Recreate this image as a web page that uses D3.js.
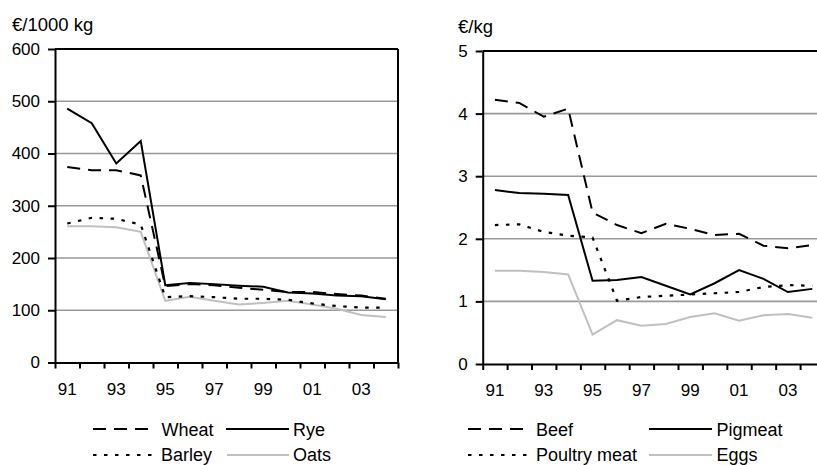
<!DOCTYPE html>
<html>
<head>
<meta charset="utf-8">
<script src="https://cdn.jsdelivr.net/npm/d3@7"></script>
<style>
  html, body { margin: 0; padding: 0; background: #fff; }
  svg { display: block; font-family: "Liberation Sans", Arial, sans-serif; }
</style>
</head>
<body>
<svg id="chart" width="817" height="465"></svg>
<script>
// Years on the category axis (1991–2004)
const years = ["91","92","93","94","95","96","97","98","99","00","01","02","03","04"];
const yearLabels = ["91","93","95","97","99","01","03"];

// Cereal prices, €/1000 kg
const wheat  = [374, 368, 368, 358, 146, 150, 148, 143, 139, 135, 135, 131, 128, 122];
const rye    = [486, 458, 381, 424, 148, 152, 150, 147, 145, 134, 132, 128, 127, 121];
const barley = [266, 277, 275, 264, 125, 127, 125, 122, 122, 120, 113, 108, 105, 105];
const oats   = [261, 261, 259, 250, 118, 126, 118, 111, 114, 118, 111, 103,  91,  87];
const cerealTicks = [0, 100, 200, 300, 400, 500, 600];

// Livestock product prices, €/kg
const beef    = [4.22, 4.17, 3.95, 4.08, 2.42, 2.22, 2.09, 2.24, 2.16, 2.06, 2.08, 1.89, 1.85, 1.90];
const pigmeat = [2.78, 2.73, 2.72, 2.70, 1.33, 1.34, 1.39, 1.25, 1.11, 1.29, 1.50, 1.36, 1.15, 1.20];
const poultry = [2.22, 2.23, 2.11, 2.05, 2.02, 1.01, 1.07, 1.09, 1.11, 1.13, 1.15, 1.23, 1.26, 1.25];
const eggs    = [1.49, 1.49, 1.47, 1.43, 0.47, 0.70, 0.61, 0.64, 0.75, 0.81, 0.69, 0.78, 0.80, 0.74];
const meatTicks = [0, 1, 2, 3, 4, 5];

const FONT = "'Liberation Sans', Arial, sans-serif";

const styles = {
  dashed: { stroke: "#000", width: 2, dash: "13,8" },
  solid:  { stroke: "#000", width: 2, dash: null },
  dotted: { stroke: "#000", width: 2.2, dash: "3.5,7.5" },
  light:  { stroke: "#c0c0c0", width: 2, dash: null }
};

const svg = d3.select("#chart");

function panel(opts) {
  const g = svg.append("g");
  const x = d3.scaleBand().domain(years).range([opts.x0, opts.x1]);
  const y = d3.scaleLinear().domain([0, opts.max]).range([opts.yBottom, opts.yTop]);

  // horizontal gridlines
  g.append("g").selectAll("line")
    .data(opts.ticks.filter(t => t > 0 && t < opts.max))
    .join("line")
    .attr("x1", opts.x0).attr("x2", opts.x1)
    .attr("y1", d => y(d)).attr("y2", d => y(d))
    .attr("stroke", "#999").attr("stroke-width", 1.6);

  // frame: top and right edges
  g.append("line").attr("x1", opts.x0).attr("x2", opts.x1)
    .attr("y1", y(opts.max)).attr("y2", y(opts.max))
    .attr("stroke", "#000").attr("stroke-width", 2);
  g.append("line").attr("x1", opts.x1).attr("x2", opts.x1)
    .attr("y1", y(opts.max)).attr("y2", y(0))
    .attr("stroke", "#000").attr("stroke-width", 2);

  // series
  const line = d3.line().x((d, i) => x(years[i]) + x.bandwidth() / 2).y(d => y(d));
  opts.series.forEach(s => {
    const st = styles[s.style];
    g.append("path").datum(s.values)
      .attr("d", line)
      .attr("fill", "none")
      .attr("stroke", st.stroke)
      .attr("stroke-width", st.width)
      .attr("stroke-dasharray", st.dash)
      .attr("stroke-linejoin", "miter");
  });

  // y axis
  const yAxis = g.append("g").attr("transform", `translate(${opts.x0},0)`)
    .call(d3.axisLeft(y).tickValues(opts.ticks).tickFormat(d3.format("d"))
      .tickSize(7).tickSizeOuter(0).tickPadding(8));
  yAxis.select(".domain").attr("stroke", "#000").attr("stroke-width", 2);
  yAxis.selectAll(".tick line").attr("stroke", "#000").attr("stroke-width", 2);
  yAxis.selectAll(".tick text").attr("font-size", 17).attr("fill", "#000")
    .attr("font-family", FONT);

  // x axis: tick marks on category boundaries
  const xb = d3.scaleLinear().domain([0, years.length]).range([opts.x0, opts.x1]);
  const xTicks = g.append("g").attr("transform", `translate(0,${y(0)})`)
    .call(d3.axisBottom(xb).tickValues(d3.range(years.length + 1)).tickSize(6)
      .tickSizeOuter(0).tickFormat(""));
  xTicks.select(".domain").attr("stroke", "#000").attr("stroke-width", 2);
  xTicks.selectAll(".tick line").attr("stroke", "#000").attr("stroke-width", 2);

  // x axis: year labels centred in their categories
  const xLab = g.append("g").attr("transform", `translate(0,${y(0)})`)
    .call(d3.axisBottom(x).tickValues(yearLabels).tickSize(0).tickPadding(20));
  xLab.select(".domain").remove();
  xLab.selectAll(".tick text").attr("font-size", 17).attr("fill", "#000")
    .attr("font-family", FONT);

  // unit label
  g.append("text").attr("x", opts.unitX).attr("y", opts.unitY)
    .attr("font-family", FONT).attr("font-size", 18.5).attr("fill", "#000").text(opts.unit);

  // legend
  opts.legend.forEach(l => {
    const st = styles[l.style];
    g.append("line").attr("x1", l.lx1).attr("x2", l.lx2)
      .attr("y1", l.ly).attr("y2", l.ly)
      .attr("stroke", st.stroke).attr("stroke-width", st.width)
      .attr("stroke-dasharray", st.dash);
    g.append("text").attr("x", l.tx).attr("y", l.ty)
      .attr("font-family", FONT).attr("font-size", 18).attr("fill", "#000").text(l.label);
  });
}

panel({
  x0: 55, x1: 398, yTop: 49, yBottom: 362.5, max: 600, ticks: cerealTicks,
  unit: "€/1000 kg", unitX: 12, unitY: 30.5,
  series: [
    { values: oats, style: "light" },
    { values: barley, style: "dotted" },
    { values: wheat, style: "dashed" },
    { values: rye, style: "solid" }
  ],
  legend: [
    { label: "Wheat",  style: "dashed", lx1: 93, lx2: 151, ly: 429, tx: 161.5, ty: 436 },
    { label: "Rye",    style: "solid",  lx1: 226, lx2: 289, ly: 429, tx: 293, ty: 436 },
    { label: "Barley", style: "dotted", lx1: 93, lx2: 157, ly: 455, tx: 161, ty: 460.5 },
    { label: "Oats",   style: "light",  lx1: 227, lx2: 289, ly: 455, tx: 293, ty: 460.5 }
  ]
});

panel({
  x0: 482.7, x1: 824.5, yTop: 51, yBottom: 364, max: 5, ticks: meatTicks,
  unit: "€/kg", unitX: 458, unitY: 33,
  series: [
    { values: eggs, style: "light" },
    { values: poultry, style: "dotted" },
    { values: beef, style: "dashed" },
    { values: pigmeat, style: "solid" }
  ],
  legend: [
    { label: "Beef",         style: "dashed", lx1: 468, lx2: 526, ly: 429, tx: 536, ty: 436 },
    { label: "Pigmeat",      style: "solid",  lx1: 649, lx2: 712, ly: 429, tx: 716.5, ty: 436 },
    { label: "Poultry meat", style: "dotted", lx1: 468, lx2: 533, ly: 455, tx: 536, ty: 460.5 },
    { label: "Eggs",         style: "light",  lx1: 649, lx2: 712, ly: 455, tx: 716.5, ty: 460.5 }
  ]
});
</script>
</body>
</html>
